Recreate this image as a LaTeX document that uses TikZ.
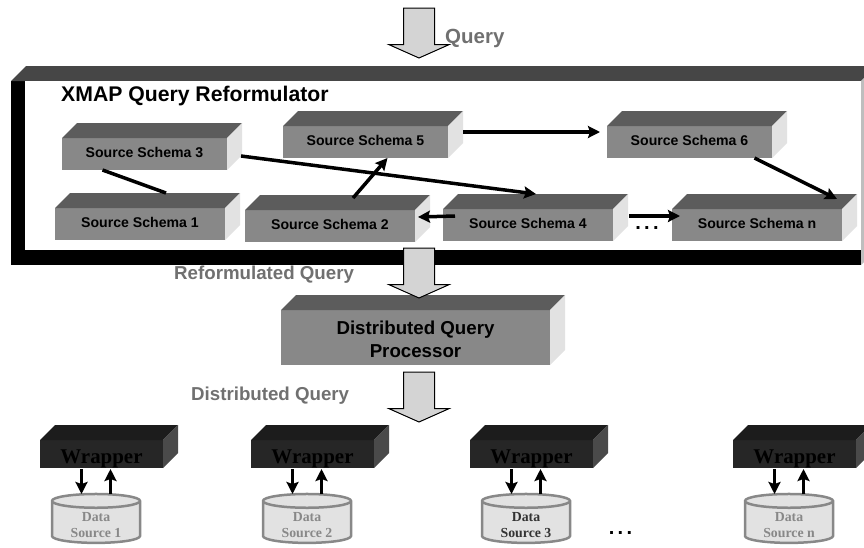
\documentclass[tikz,border=0pt]{standalone}
\usepackage{fontspec}
\setmainfont{Liberation Sans}
\newfontfamily\wrapperfont{Liberation Serif}
\usetikzlibrary{arrows.meta, shapes.arrows, shapes.geometric}
\definecolor{framefront}{HTML}{000000}
\definecolor{frametop}{HTML}{464646}
\definecolor{frameside}{HTML}{BEBEBE}
\definecolor{schemafront}{HTML}{888888}
\definecolor{schematop}{HTML}{5C5C5C}
\definecolor{schemaside}{HTML}{E2E2E2}
\definecolor{wrapperfront}{HTML}{262626}
\definecolor{wrappertop}{HTML}{1C1C1C}
\definecolor{wrapperside}{HTML}{4A4A4A}
\definecolor{storefill}{HTML}{E2E2E2}
\definecolor{storedraw}{HTML}{888888}
\definecolor{blockfill}{HTML}{D4D4D4}
\definecolor{caption}{HTML}{707070}
\def\boxdepth{15pt}
\def\linewidthmain{3.5pt}
% Front face is the node, the other two faces are filled around it
\newcommand{\boxfaces}[3]{
	\fill[#2] (#1.north west) -- ++(\boxdepth,\boxdepth) --
	  ([shift={(\boxdepth,\boxdepth)}]#1.north east) -- (#1.north east) -- cycle;
	\fill[#3] (#1.north east) -- ++(\boxdepth,\boxdepth) --
	  ([shift={(\boxdepth,\boxdepth)}]#1.south east) -- (#1.south east) -- cycle;
}
\newcommand{\threedots}{.\hspace{3.4pt}.\hspace{3.4pt}.}
\newcommand{\storesize}{\phantom{\rule{51pt}{27pt}}}
\tikzset{
	% labels
	caption/.style={
		font=\fontsize{18.7}{22}\selectfont\bfseries,
		text=caption,
		inner sep=0pt,
	},
	dots/.style={
		font=\fontsize{20}{22}\selectfont\bfseries,
		inner sep=0pt,
	},
	store text/.style={
		inner sep=0pt,
		yshift=-2.5pt,
		align=center,
		font=\wrapperfont\fontsize{13.8}{16.5}\selectfont\bfseries,
	},
	% 3D boxes
	solid box/.style={
		shape=rectangle,
		anchor=north west,
		inner sep=0pt,
		outer sep=0pt,
		align=center,
	},
	schema/.style={
		solid box,
		fill=schemafront,
		minimum height=32pt,
		text depth=4pt,
		font=\fontsize{14.1}{17}\selectfont\bfseries,
	},
	wrapper/.style={
		solid box,
		fill=wrapperfront,
		minimum width=123pt,
		minimum height=28pt,
		text=black,
		text height=23pt,
		text depth=3.5pt,
		font=\wrapperfont\fontsize{20.9}{24}\selectfont\bfseries,
	},
	% data sources
	store/.style={
		shape=cylinder,
		shape border rotate=90,
		aspect=0.27,
		anchor=center,
		fill=storefill,
		draw=storedraw,
		line width=2.5pt,
		minimum width=88pt,
		minimum height=48pt,
		inner sep=0pt,
	},
	% big arrows
	block arrow/.style={
		shape=single arrow,
		rotate=270,
		anchor=tail,
		fill=blockfill,
		draw=black,
		line width=1pt,
		minimum height=50pt,
		inner xsep=0pt,
		inner ysep=15pt,
		single arrow head extend=14.5pt,
		single arrow tip angle=132,
		outer sep=0pt,
	},
	% connections
	connection/.style={
		line width=\linewidthmain,
		-{Stealth[length=12pt,width=12pt,inset=2pt]},
	},
	link/.style={
		line width=\linewidthmain,
	}
}
\begin{document}
\begin{tikzpicture}[x=1pt, y=-1pt]
		\clip (0,0) rectangle (864,547);
		% Reformulator frame
		\node[
			solid box,
			fill=framefront,
			minimum width=850pt,
			minimum height=184pt,
		] (reformulator) at (11,81) {};
		\boxfaces{reformulator}{frametop}{frameside}
		\fill[white] ([xshift=14pt]reformulator.north west) rectangle
		  ([yshift=15pt]reformulator.south east);
		\node[
			font=\fontsize{21.2}{24}\selectfont\bfseries,
			anchor=west,
			inner sep=0pt,
		] (reformulator_title) at (61,96.5) {XMAP Query Reformulator};

		% Source schemas
		\foreach \name/\x/\y/\w/\txt in {
			schema3/62/138/165/Source Schema 3,
			schema1/55/208/170/Source Schema 1,
			schema2/245/210/170/Source Schema 2,
			schema5/283/126/165/Source Schema 5,
			schema4/443/209/170/Source Schema 4,
			scheman/672/209/170/Source Schema n,
			schema6/607/126/165/Source Schema 6%
		} {
			\node[
				schema,
				minimum width=\w pt,
			] (\name) at (\x,\y) {\txt};
			\boxfaces{\name}{schematop}{schemaside}
		}

		% Connections
		\draw [
			link
		] ([xshift=-42pt]schema3.south) -- ([xshift=26pt,yshift=15pt]schema1.north);
		\draw [
			connection
		] ([yshift=-2pt]schema3.east) ++(14pt,0) --
		  ([xshift=8pt,yshift=15pt]schema4.north);
		\draw [
			connection
		] ([xshift=23pt,yshift=12pt]schema2.north) -- ([xshift=22pt]schema5.south);
		\draw [
			connection
		] ([xshift=12pt,yshift=9pt]schema4.west) -- ([xshift=3pt,yshift=9pt]schema2.east);
		\draw [
			connection
		] ([xshift=15pt,yshift=10pt]schema5.east) -- ([xshift=-7pt,yshift=10pt]schema6.west);
		\draw [
			connection
		] ([xshift=16pt,yshift=9pt]schema4.east) -- ([xshift=8pt,yshift=9pt]scheman.west);
		\draw [
			connection
		] ([xshift=65pt]schema6.south) -- ([xshift=80pt,yshift=10pt]scheman.north);
		\node[dots] (schema_dots) at (647,228) {\threedots};

		% Query processor
		\node[
			schema,
			minimum width=269pt,
			minimum height=55pt,
			text depth=0pt,
			font=\fontsize{18.7}{22.5}\selectfont\bfseries,
		] (processor) at (281,310) {\rule{0pt}{17pt}Distributed Query\\Processor};
		\boxfaces{processor}{schematop}{schemaside}

		% Big arrows
		\node[block arrow] (query_arrow) at (419,8) {};
		\node[block arrow] (reformulated_arrow) at (419,248) {};
		\node[block arrow] (distributed_arrow) at (419,372) {};
		\node[caption, anchor=west, font=\fontsize{20.5}{22}\selectfont\bfseries] (query_label) at (445,38) {Query};
		\node[caption, anchor=west] (reformulated_label) at (174,275) {Reformulated Query};
		\node[caption, anchor=west] (distributed_label) at (191,396) {Distributed Query};

		% Wrappers and their sources
		\foreach \i/\wx/\sx/\txtcolor in {
			1/40/96/storedraw,
			2/251/307/storedraw,
			3/470/526/black!80,
			n/733/789/storedraw%
		} {
			\node[wrapper] (wrapper\i) at (\wx,440) {Wrapper};
			\boxfaces{wrapper\i}{wrappertop}{wrapperside}
			\node[
				store,
				label={[store text, text=\txtcolor]center:Data\\Source \i},
			] (source\i) at (\sx,522.5) {\storesize};
			\draw [
				connection,
			] ([xshift=-20pt,yshift=-1pt]wrapper\i.south) -- ([xshift=-20pt,yshift=-26pt]wrapper\i.south);
			\draw [
				connection,
			] ([xshift=9pt,yshift=-26pt]wrapper\i.south) -- ([xshift=9pt,yshift=-1pt]wrapper\i.south);
		}
		\node[dots] (source_dots) at (620.5,533) {\threedots};
	\end{tikzpicture}
\end{document}
